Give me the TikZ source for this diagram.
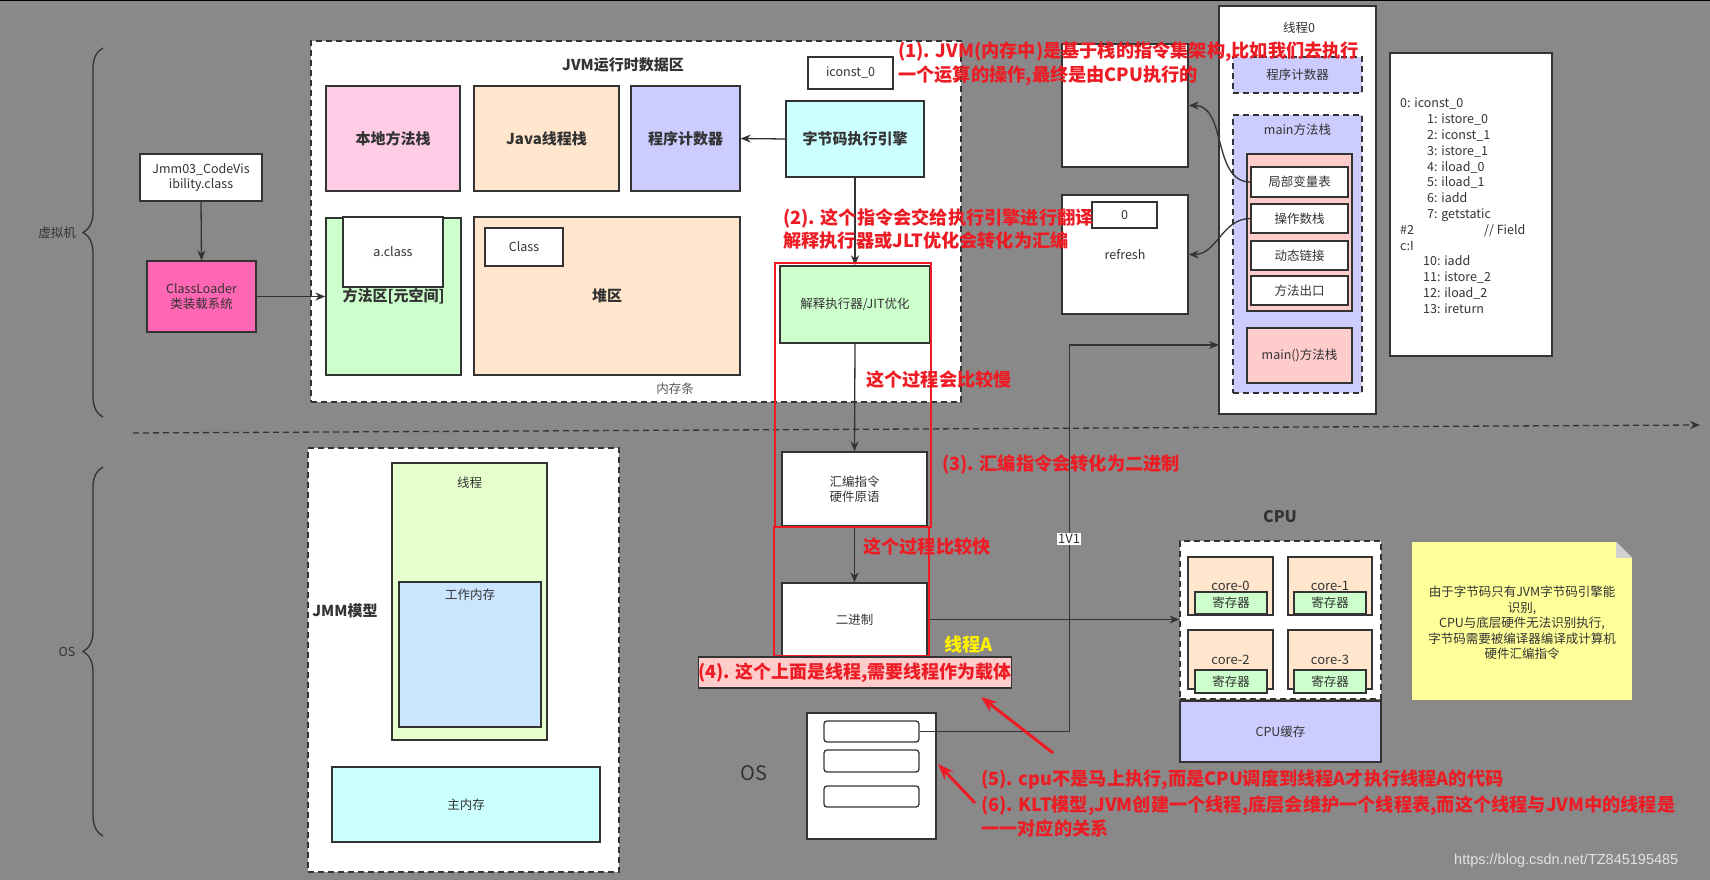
\documentclass[tikz,border=0pt]{standalone}
\usepackage{fontspec}
\setmainfont{Noto Sans CJK SC}
\newfontfamily\wmfont{Liberation Sans}
\usetikzlibrary{arrows.meta, positioning, calc, decorations.pathreplacing}

\definecolor{bggray}{HTML}{898989}
\definecolor{linegray}{HTML}{333333}
\definecolor{txtgray}{HTML}{333333}
\definecolor{pinkA}{HTML}{FFCCE6}
\definecolor{peach}{HTML}{FFE6CC}
\definecolor{lavender}{HTML}{CCCCFF}
\definecolor{cyanA}{HTML}{CCFFFF}
\definecolor{greenA}{HTML}{CCFFCC}
\definecolor{hotpink}{HTML}{FF66B3}
\definecolor{limeA}{HTML}{E6FFCC}
\definecolor{blueA}{HTML}{CCE5FF}
\definecolor{roseA}{HTML}{FFCCCC}
\definecolor{noteY}{HTML}{FFFF99}
\definecolor{annred}{HTML}{ED1C24}
\definecolor{wmgray}{HTML}{E2E2E2}

\newcommand{\fsz}[2]{\fontsize{#1}{#2}\selectfont}

\begin{document}
\begin{tikzpicture}[x=1pt, y=-1pt,
    box/.style={rectangle, draw=linegray, line width=1.3pt, fill=white, inner sep=0pt, align=center, text=txtgray, font=\fsz{12.5}{15.5}},
    dbox/.style={box, dash pattern=on 6pt off 4pt},
    boldtxt/.style={font=\fsz{15}{18}\bfseries, text=txtgray},
    txt/.style={inner sep=0pt, text=txtgray, font=\fsz{12.5}{15.5}, align=center},
    ann/.style={inner sep=0pt, text=annred, font=\fsz{18.2}{23.5}\bfseries, align=left, anchor=west},
    redbox/.style={rectangle, draw=annred, line width=2pt, inner sep=0pt},
    arrow/.style={draw=linegray, line width=1.3pt, -{Stealth[length=10pt, width=8pt]}},
    redarrow/.style={draw=annred, line width=3pt, -{Stealth[length=16pt, width=12pt]}},
    bracket/.style={draw=linegray, line width=1.3pt, decorate, decoration={brace, amplitude=20pt}}
]
% Background
\fill[bggray] (0,0) rectangle (1710,880);
\useasboundingbox (0,0) rectangle (1710,880);
\fill[black] (0,0) rectangle (1710,1.5);

% Braces
\draw[bracket] (103,417) -- (103,48);
\node[txt] (vm) at (57,233) {虚拟机};
\draw[bracket] (103,836) -- (103,467);
\node[txt] (oslbl) at (67,652) {OS};

% Separator
\coordinate (sepL) at (133,433);
\coordinate (sepR) at (1700,425);
\draw[arrow, dash pattern=on 6pt off 4pt] (sepL) -- (sepR);

% Class loading
\node[box, minimum width=122pt, minimum height=47pt] (jmmcls) at (201,177.5) {Jmm03\_CodeVis\\ibility.class};
\node[box, fill=hotpink, minimum width=109pt, minimum height=71pt] (loader) at (201.5,296.5) {ClassLoader\\类装载系统};

% Runtime data area
\node[dbox, minimum width=650pt, minimum height=361pt] (jvm) at (636,221.5) {};
\node[inner sep=0pt, boldtxt] (jvmtitle) at (623,65) {JVM运行时数据区};
\node[box, fill=pinkA, minimum width=134pt, minimum height=105pt, boldtxt] (native) at (393,138.5) {本地方法栈};
\node[box, fill=peach, minimum width=145pt, minimum height=105pt, boldtxt] (jstack) at (546.5,138.5) {Java线程栈};
\node[box, fill=lavender, minimum width=109pt, minimum height=105pt, boldtxt] (pc) at (685.5,138.5) {程序计数器};
\node[box, fill=cyanA, minimum width=138pt, minimum height=76pt, boldtxt] (engine) at (855,139) {字节码执行引擎};
\node[box, minimum width=85pt, minimum height=32pt] (iconst) at (850.5,73) {iconst\_0};
\node[box, fill=greenA, minimum width=135pt, minimum height=157pt, boldtxt] (method) at (393.5,296.5) {方法区[元空间]};
\node[box, minimum width=100pt, minimum height=70pt] (aclass) at (393,252) {a.class};
\node[box, fill=peach, minimum width=266pt, minimum height=158pt, boldtxt] (heap) at (607,296) {堆区};
\node[box, minimum width=78pt, minimum height=38pt] (klass) at (524,247) {Class};
\node[txt, text=black!65] (ramtxt) at (675,389) {内存条};

% Execution path
\node[box, fill=greenA, minimum width=150pt, minimum height=77pt] (jit) at (855,304.5) {解释执行器/JIT优化};
\node[box, minimum width=145pt, minimum height=74pt] (asm) at (854.5,489) {汇编指令\\硬件原语};
\node[box, minimum width=145pt, minimum height=73pt] (bin) at (854.5,619.5) {二进制};

% Stack frames
\node[box, minimum width=126pt, minimum height=123pt] (frametop) at (1125,105.5) {};
\node[box, minimum width=126pt, minimum height=119pt] (refresh) at (1125,254.5) {refresh};
\node[box, minimum width=65pt, minimum height=26pt] (zero) at (1124.5,215) {0};

% Thread 0
\node[box, minimum width=157pt, minimum height=408pt] (thread0) at (1297.5,210) {};
\node[txt] (thread0txt) at (1299,28) {线程0};
\node[dbox, fill=lavender, minimum width=129pt, minimum height=36pt] (tpc) at (1297.5,75) {程序计数器};
\node[dbox, fill=lavender, minimum width=129pt, minimum height=278pt] (mstack) at (1297.5,254) {};
\node[txt] (mstacktxt) at (1297.5,130) {main方法栈};
\node[box, fill=roseA, minimum width=105pt, minimum height=157pt] (frame) at (1299.5,232.5) {};
\node[box, minimum width=97pt, minimum height=30pt] (lvt) at (1299.5,182) {局部变量表};
\node[box, minimum width=97pt, minimum height=29pt] (opstack) at (1299.5,218.5) {操作数栈};
\node[box, minimum width=97pt, minimum height=29pt] (dynlink) at (1299.5,255.5) {动态链接};
\node[box, minimum width=97pt, minimum height=29pt] (mexit) at (1299.5,290.5) {方法出口};
\node[box, fill=roseA, minimum width=105pt, minimum height=55pt] (mainstk) at (1299.5,355.5) {main()方法栈};

% Bytecode listing
\node[box, minimum width=162pt, minimum height=303pt] (code) at (1471,204.5) {};
\node[txt, anchor=north west, align=left, font=\fsz{12.5}{15.8}] (codetxt) at (1400,98) {0: iconst\_0\\
\hspace*{27pt}1: istore\_0\\
\hspace*{27pt}2: iconst\_1\\
\hspace*{27pt}3: istore\_1\\
\hspace*{27pt}4: iload\_0\\
\hspace*{27pt}5: iload\_1\\
\hspace*{27pt}6: iadd\\
\hspace*{27pt}7: getstatic\\
\makebox[84pt][l]{\#2}// Field\\
c:I\\
\hspace*{23pt}10: iadd\\
\hspace*{23pt}11: istore\_2\\
\hspace*{23pt}12: iload\_2\\
\hspace*{23pt}13: ireturn};

% JMM
\node[dbox, minimum width=311pt, minimum height=424pt] (jmm) at (463.5,660) {};
\node[box, fill=limeA, minimum width=155pt, minimum height=277pt] (jthread) at (469.5,601.5) {};
\node[txt] (jthreadtxt) at (469.5,483) {线程};
\node[box, fill=blueA, minimum width=142pt, minimum height=145pt] (workmem) at (470,654.5) {};
\node[txt] (workmemtxt) at (470,595) {工作内存};
\node[box, fill=cyanA, minimum width=268pt, minimum height=75pt] (mainmem) at (466,804.5) {主内存};
\node[inner sep=0pt, boldtxt] (jmmtxt) at (345,611) {JMM模型};

% OS thread table
\node[box, minimum width=129pt, minimum height=126pt] (ostab) at (871.5,776) {};
\node[box, rounded corners=3pt, minimum width=95pt, minimum height=21pt] (row1) at (871.5,731.5) {};
\node[box, rounded corners=3pt, minimum width=95pt, minimum height=22pt] (row2) at (871.5,761) {};
\node[box, rounded corners=3pt, minimum width=95pt, minimum height=21pt] (row3) at (871.5,796.5) {};
\node[txt, font=\fsz{20}{24}] (ostxt) at (754,773) {OS};

% CPU
\node[dbox, minimum width=201pt, minimum height=158pt] (cpu) at (1280.5,620) {};
\node[inner sep=0pt, boldtxt, font=\fsz{16}{19}\bfseries] (cputxt) at (1280,517) {CPU};
\node[box, fill=peach, minimum width=85pt, minimum height=58pt, font=\fsz{13}{15}] (core0) at (1230.5,586) {core-0};
\node[box, fill=peach, minimum width=84pt, minimum height=58pt, font=\fsz{13}{15}] (core1) at (1330,586) {core-1};
\node[box, fill=peach, minimum width=85pt, minimum height=59pt, font=\fsz{13}{15}] (core2) at (1230.5,659.5) {core-2};
\node[box, fill=peach, minimum width=84pt, minimum height=59pt, font=\fsz{13}{15}] (core3) at (1330,659.5) {core-3};
\node[box, fill=greenA, minimum width=72pt, minimum height=22pt] (reg0) at (1231,603) {寄存器};
\node[box, fill=greenA, minimum width=72pt, minimum height=22pt] (reg1) at (1330,603) {寄存器};
\node[box, fill=greenA, minimum width=72pt, minimum height=23pt] (reg2) at (1231,681.5) {寄存器};
\node[box, fill=greenA, minimum width=72pt, minimum height=23pt] (reg3) at (1330,681.5) {寄存器};
\node[box, fill=lavender, minimum width=201pt, minimum height=61pt] (cache) at (1280.5,731.5) {CPU缓存};

% Note
\node[rectangle, fill=noteY, inner sep=0pt, minimum width=220pt, minimum height=158pt] (note) at (1522,621) {};
\fill[bggray] ($(note.north east)+(-16,0)$) -- (note.north east) -- ($(note.north east)+(0,16)$) -- cycle;
\fill[black!18] ($(note.north east)+(-16,0)$) -- ($(note.north east)+(-16,16)$) -- ($(note.north east)+(0,16)$) -- cycle;
\node[txt] (notetxt) at (1522,623) {由于字节码只有JVM字节码引擎能\\识别,\\CPU与底层硬件无法识别执行,\\字节码需要被编译器编译成计算机\\硬件汇编指令};

% Connections
\draw[arrow] (jmmcls.south) -- (loader.north);
\draw[arrow] (loader.east) -- (method.west);
\draw[arrow] (engine.west) -- (pc.east);
\draw[arrow] (engine.south) -- (jit.north);
\draw[arrow] (jit.south) -- (asm.north);
\draw[arrow] (asm.south) -- (bin.north);
\draw[arrow] (bin.east) -- (bin.east -| cpu.west);
\draw[arrow] (lvt.west) to[out=180, in=0] (frametop.east);
\draw[arrow] (opstack.west) to[out=180, in=0] (refresh.east);
\coordinate (t0in) at (1219,345);
\draw[arrow] (row1.east) -- ++(150,0) |- (t0in);
\node[txt, fill=white, inner sep=1.5pt, font=\fsz{13}{15}] (onevone) at (1069,539) {1V1};

% Red marks
\node[redbox, minimum width=156pt, minimum height=264pt] (slowbox) at (853,395) {};
\node[redbox, minimum width=155pt, minimum height=129pt] (fastbox) at (851.5,591.5) {};
\node[box, fill=roseA, text=annred, font=\fsz{18}{22}\bfseries, minimum width=312pt, minimum height=31pt] (carrier) at (855,672.5) {(4). 这个上面是线程,需要线程作为载体};
\coordinate (r5from) at (1053,753);
\coordinate (r5to) at (981,697);
\coordinate (r6from) at (975,803);
\coordinate (r6to) at (938,764);
\draw[redarrow] (r5from) -- (r5to);
\draw[redarrow] (r6from) -- (r6to);

% Annotations
\node[ann] (ann1) at (898,63.5) {(1). JVM(内存中)是基于栈的指令集架构,比如我们去执行\\一个运算的操作,最终是由CPU执行的};
\node[ann] (ann2) at (783,229) {(2). 这个指令会交给执行引擎进行翻译\\解释执行器或JLT优化会转化为汇编};
\node[ann] (slow) at (866,380) {这个过程会比较慢};
\node[ann] (ann3) at (942,464) {(3). 汇编指令会转化为二进制};
\node[ann] (fast) at (863,547) {这个过程比较快};
\node[ann, text=yellow] (threadA) at (944,645) {线程A};
\node[ann] (ann5) at (981,780) {(5). cpu不是马上执行,而是CPU调度到线程A才执行线程A的代码};
\node[ann] (ann6) at (981,816.5) {(6). KLT模型,JVM创建一个线程,底层会维护一个线程表,而这个线程与JVM中的线程是\\一一对应的关系};

% Watermark
\node[inner sep=0pt, anchor=west, text=wmgray, font=\wmfont\fsz{14.5}{17}] (wm) at (1454,861) {https://blog.csdn.net/TZ845195485};
\end{tikzpicture}
\end{document}
